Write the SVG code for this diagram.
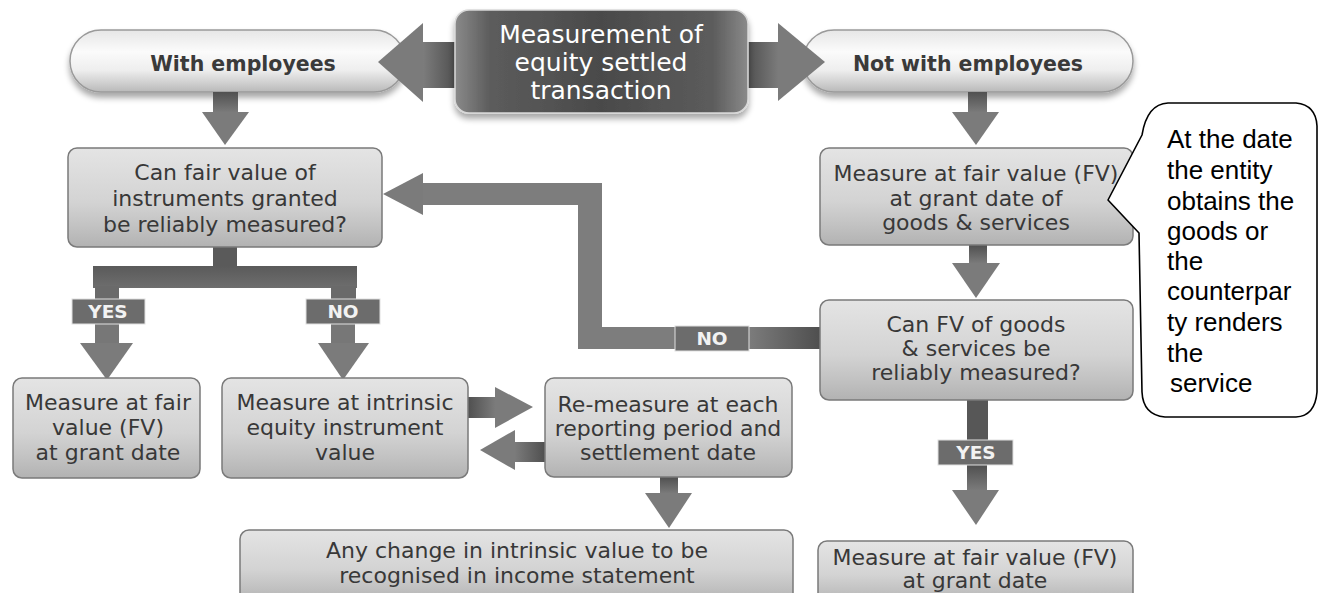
<svg xmlns="http://www.w3.org/2000/svg" width="1319" height="593" viewBox="0 0 1319 593">
  <defs>
    <linearGradient id="boxFill" x1="0" y1="0" x2="0" y2="1">
      <stop offset="0" stop-color="#e4e4e4"/>
      <stop offset="0.55" stop-color="#d3d3d3"/>
      <stop offset="0.78" stop-color="#c3c3c3"/>
      <stop offset="1" stop-color="#b2b2b2"/>
    </linearGradient>
    <linearGradient id="pillFill" x1="0" y1="0" x2="0" y2="1">
      <stop offset="0" stop-color="#e6e6e6"/>
      <stop offset="0.35" stop-color="#fbfbfb"/>
      <stop offset="0.65" stop-color="#eeeeee"/>
      <stop offset="1" stop-color="#b9b9b9"/>
    </linearGradient>
    <linearGradient id="titleFill" x1="0" y1="0" x2="1" y2="0">
      <stop offset="0" stop-color="#8a8a8a"/>
      <stop offset="0.12" stop-color="#5c5c5c"/>
      <stop offset="0.5" stop-color="#4a4a4a"/>
      <stop offset="0.88" stop-color="#5c5c5c"/>
      <stop offset="1" stop-color="#8a8a8a"/>
    </linearGradient>
    <linearGradient id="shaftV" x1="0" y1="0" x2="0" y2="1">
      <stop offset="0" stop-color="#505050"/>
      <stop offset="1" stop-color="#7c7c7c"/>
    </linearGradient>
    <linearGradient id="shaftL" x1="1" y1="0" x2="0" y2="0">
      <stop offset="0" stop-color="#4e4e4e"/>
      <stop offset="1" stop-color="#7c7c7c"/>
    </linearGradient>
    <linearGradient id="shaftR" x1="0" y1="0" x2="1" y2="0">
      <stop offset="0" stop-color="#4e4e4e"/>
      <stop offset="1" stop-color="#7c7c7c"/>
    </linearGradient>
    <linearGradient id="branchFill" x1="0" y1="0" x2="0" y2="1">
      <stop offset="0" stop-color="#5a5a5a"/>
      <stop offset="1" stop-color="#6e6e6e"/>
    </linearGradient>
    <filter id="soft" x="-10%" y="-20%" width="120%" height="160%">
      <feGaussianBlur in="SourceAlpha" stdDeviation="3"/>
      <feOffset dy="5"/>
      <feComponentTransfer><feFuncA type="linear" slope="0.35"/></feComponentTransfer>
      <feMerge><feMergeNode/><feMergeNode in="SourceGraphic"/></feMerge>
    </filter>
    <style>
      .box { fill: url(#boxFill); stroke: #7a7a7a; stroke-width: 1.5; }
      .pill { fill: url(#pillFill); stroke: #9a9a9a; stroke-width: 1.5; }
      .txt { font-family: "DejaVu Sans", "Noto Sans", sans-serif; font-size: 22px; fill: #383838; text-anchor: middle; }
      .ptxt { font-family: "DejaVu Sans", sans-serif; font-size: 20.5px; font-weight: bold; fill: #3a3a3a; text-anchor: middle; }
      .ttxt { font-family: "DejaVu Sans", sans-serif; font-size: 25px; fill: #ffffff; text-anchor: middle; }
      .head { fill: #7b7b7b; }
      .lab { fill: #6c6c6c; stroke: #e0e0e0; stroke-width: 1; }
      .ltxt { font-family: "DejaVu Sans", sans-serif; font-size: 18.5px; font-weight: bold; fill: #f2f2f2; text-anchor: middle; }
      .btxt { font-family: "Liberation Sans", Arial, sans-serif; font-size: 26px; fill: #000000; }
    </style>
  </defs>

  <rect width="1319" height="593" fill="#ffffff"/>

  <!-- top row pills -->
  <g id="with-employees">
    <rect class="pill" x="70" y="30" width="335" height="62" rx="31" filter="url(#soft)"/>
    <text class="ptxt" x="243" y="71">With employees</text>
  </g>
  <g id="not-with-employees">
    <rect class="pill" x="803" y="30" width="330" height="62" rx="31" filter="url(#soft)"/>
    <text class="ptxt" x="968" y="71">Not with employees</text>
  </g>

  <!-- flow connectors -->
  <g id="connectors">
    <!-- title to both pills -->
    <rect x="423" y="42" width="34" height="46" fill="url(#shaftL)"/>
    <polygon class="head" points="423,23 423,102 378,62"/>
    <rect x="746" y="42" width="33" height="46" fill="url(#shaftR)"/>
    <polygon class="head" points="778,23 778,101 825,62"/>

    <!-- pills down to first boxes -->
    <rect x="213" y="92" width="25" height="21" fill="url(#shaftV)"/>
    <polygon class="head" points="202,112 249,112 225,145"/>
    <rect x="968" y="92" width="19" height="21" fill="url(#shaftV)"/>
    <polygon class="head" points="952,112 999,112 976,145"/>

    <!-- branch under the left question -->
    <rect x="213" y="247" width="24" height="22" fill="#5a5a5a"/>
    <rect x="93" y="266" width="264" height="22" fill="url(#branchFill)"/>
    <rect x="95" y="286" width="24" height="14" fill="#6a6a6a"/>
    <rect x="331" y="286" width="25" height="14" fill="#6a6a6a"/>
    <rect x="95" y="324" width="24" height="20" fill="#777777"/>
    <polygon class="head" points="80,343 133,343 107,380"/>
    <rect x="331" y="324" width="24" height="20" fill="#777777"/>
    <polygon class="head" points="318,343 369,343 343,380"/>

    <!-- intrinsic value <-> re-measure -->
    <rect x="467" y="397" width="29" height="21" fill="url(#shaftR)"/>
    <polygon class="head" points="495,387 495,428 533,407"/>
    <rect x="514" y="442" width="32" height="20" fill="url(#shaftL)"/>
    <polygon class="head" points="515,430 515,470 480,450"/>

    <!-- re-measure down to income statement -->
    <rect x="660" y="477" width="18" height="17" fill="url(#shaftV)"/>
    <polygon class="head" points="645,493 692,493 669,528"/>

    <!-- right column -->
    <rect x="969" y="245" width="18" height="19" fill="url(#shaftV)"/>
    <polygon class="head" points="952,263 1000,263 976,298"/>
    <rect x="967" y="400" width="21" height="41" fill="#575757"/>
    <rect x="967" y="465" width="20" height="26" fill="url(#shaftV)"/>
    <polygon class="head" points="952,490 999,490 976,525"/>

    <!-- NO loop back to the left question -->
    <rect x="749" y="327" width="72" height="22" fill="url(#shaftL)"/>
    <polygon fill="#7d7d7d" points="676,327 602,327 602,183 423,183 423,205 578,205 578,349 676,349"/>
    <polygon class="head" points="423,173 423,215 383,194"/>

    <!-- branch labels -->
    <rect class="lab" x="72" y="299" width="73" height="25"/>
    <text class="ltxt" x="108" y="318">YES</text>
    <rect class="lab" x="306" y="299" width="74" height="25"/>
    <text class="ltxt" x="343" y="318">NO</text>
    <rect class="lab" x="675" y="326" width="74" height="25"/>
    <text class="ltxt" x="712" y="345">NO</text>
    <rect class="lab" x="938" y="440" width="75" height="25"/>
    <text class="ltxt" x="976" y="459">YES</text>
  </g>

  <!-- central title -->
  <g id="title">
    <rect x="455" y="10" width="293" height="103" rx="14" fill="url(#titleFill)" stroke="#d8d8d8" stroke-width="1.5" filter="url(#soft)"/>
    <text class="ttxt" x="601" y="43">Measurement of</text>
    <text class="ttxt" x="601" y="71">equity settled</text>
    <text class="ttxt" x="601" y="99">transaction</text>
  </g>

  <g id="can-fair-value">
    <rect class="box" x="68" y="148" width="314" height="99" rx="9"/>
    <text class="txt" x="225" y="180">Can fair value of</text>
    <text class="txt" x="225" y="206">instruments granted</text>
    <text class="txt" x="225" y="232">be reliably measured?</text>
  </g>

  <g id="measure-fv-goods">
    <rect class="box" x="820" y="148" width="313" height="97" rx="9"/>
    <text class="txt" x="976" y="181">Measure at fair value (FV)</text>
    <text class="txt" x="976" y="206">at grant date of</text>
    <text class="txt" x="976" y="230">goods &amp; services</text>
  </g>

  <g id="can-fv-goods">
    <rect class="box" x="820" y="300" width="313" height="100" rx="9"/>
    <text class="txt" x="976" y="332">Can FV of goods</text>
    <text class="txt" x="976" y="356">&amp; services be</text>
    <text class="txt" x="976" y="380">reliably measured?</text>
  </g>

  <g id="measure-fv-left">
    <rect class="box" x="13" y="378" width="187" height="100" rx="9"/>
    <text class="txt" x="108" y="410">Measure at fair</text>
    <text class="txt" x="108" y="435">value (FV)</text>
    <text class="txt" x="108" y="460">at grant date</text>
  </g>

  <g id="measure-intrinsic">
    <rect class="box" x="222" y="378" width="246" height="100" rx="9"/>
    <text class="txt" x="345" y="410">Measure at intrinsic</text>
    <text class="txt" x="345" y="435">equity instrument</text>
    <text class="txt" x="345" y="460">value</text>
  </g>

  <g id="re-measure">
    <rect class="box" x="545" y="378" width="247" height="99" rx="9"/>
    <text class="txt" x="668" y="412">Re-measure at each</text>
    <text class="txt" x="668" y="436">reporting period and</text>
    <text class="txt" x="668" y="460">settlement date</text>
  </g>

  <g id="income-statement">
    <rect class="box" x="240" y="530" width="553" height="72" rx="9"/>
    <text class="txt" x="517" y="558">Any change in intrinsic value to be</text>
    <text class="txt" x="517" y="583">recognised in income statement</text>
  </g>

  <g id="measure-fv-right">
    <rect class="box" x="818" y="541" width="315" height="62" rx="9"/>
    <text class="txt" x="975" y="565">Measure at fair value (FV)</text>
    <text class="txt" x="975" y="588">at grant date</text>
  </g>

  <!-- callout note -->
  <g id="callout">
    <path d="M1108,200 L1142,135 Q1147,104 1168,103 L1296,103 Q1316,105 1317,126 L1317,392 Q1315,416 1296,417 L1165,417 Q1143,415 1142,392 L1139,233 Z" fill="#ffffff" stroke="#000000" stroke-width="1.6" stroke-linejoin="round"/>
    <text class="btxt" x="1167" y="148">At the date</text>
    <text class="btxt" x="1167" y="179">the entity</text>
    <text class="btxt" x="1167" y="210">obtains the</text>
    <text class="btxt" x="1167" y="240">goods or</text>
    <text class="btxt" x="1167" y="270">the</text>
    <text class="btxt" x="1167" y="300">counterpar</text>
    <text class="btxt" x="1167" y="331">ty renders</text>
    <text class="btxt" x="1167" y="362">the</text>
    <text class="btxt" x="1170" y="392">service</text>
  </g>
</svg>
